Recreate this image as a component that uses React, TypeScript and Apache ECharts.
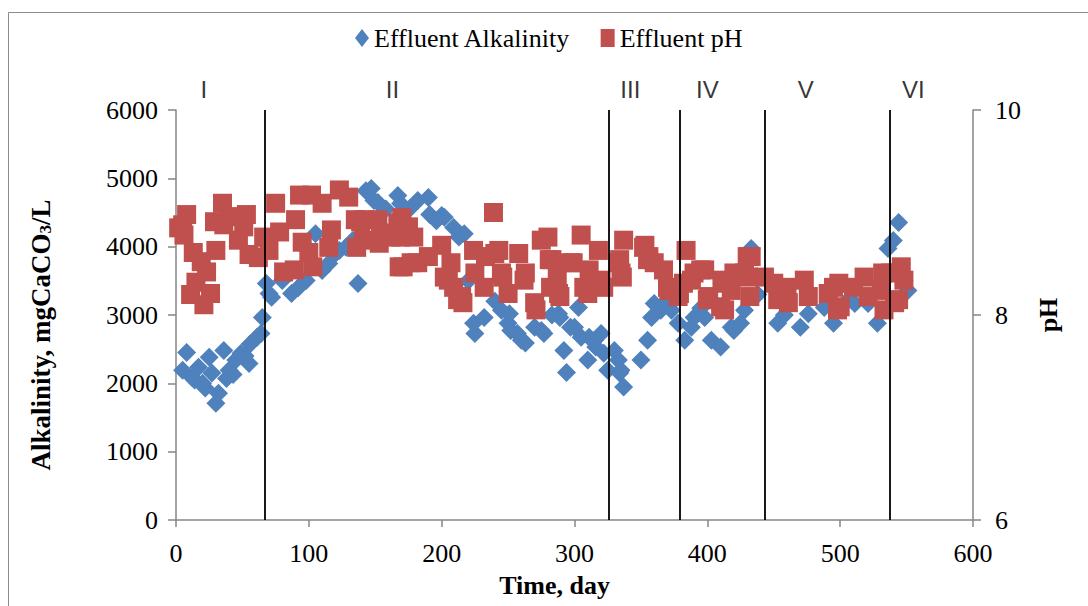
import React, { useEffect, useRef } from "react";
import * as echarts from "echarts";

// Effluent alkalinity (mgCaCO3/L) vs day
const alkDays = [
  5, 8, 12, 14, 17, 20, 22, 25, 27, 30, 32, 36, 38, 40, 43, 45, 49, 52, 55, 56, 61, 64, 65,
  68, 70, 72, 80, 87, 92, 98, 105, 110, 115, 120, 123, 128, 133, 137, 143, 147, 149, 152, 158,
  167, 169, 176, 182, 190, 191, 196, 200, 202, 209, 213, 217, 220, 224, 225, 232, 240, 245,
  250, 251, 252, 257, 260, 263, 270, 275, 277, 283, 288, 289, 292, 294, 297, 300, 303, 305,
  310, 311, 315, 316, 320, 322, 325,
  330, 333, 334, 335, 337, 350, 355, 358, 360, 365, 370, 373, 378,
  383, 388, 390, 395, 398, 403, 410, 418, 420, 425, 428, 433, 438,
  453, 458, 470, 476, 488, 495, 505, 511, 521, 528, 536,
  540, 544, 548, 551,
];
const alkValues = [
  2190, 2450, 2090, 2050, 2235, 2000, 1930, 2380, 2150, 1710, 1855, 2480, 2070, 2190, 2130, 2340, 2440, 2400, 2290, 2580, 2675, 2730, 2965,
  3460, 3315, 3260, 3505, 3315, 3400, 3505, 4190, 3650, 3755, 3900, 3945, 3990, 4090, 3460, 4820, 4850, 4675, 4645, 4550,
  4750, 4630, 4560, 4675, 4720, 4470, 4380, 4455, 4430, 4280, 4140, 4190, 3500, 2880, 2730, 2965, 3200, 3070,
  2880, 3020, 2775, 2730, 2630, 2590, 2820, 2775, 2730, 3000, 3020, 2965, 2480, 2160, 2820, 2820, 3110, 2675,
  2340, 2675, 2630, 2530, 2730, 2440, 2190,
  2480, 2340, 2150, 2190, 1945, 2340, 2630, 2965, 3170, 3070, 3215, 3070, 2880,
  2630, 2820, 2965, 3100, 2965, 2630, 2530, 2820, 2775, 2880, 3070, 3975, 3300,
  2880, 3000, 2820, 3020, 3110, 2880, 3200, 3170, 3170, 2880, 3975,
  4090, 4355, 3500, 3360,
];

// Effluent pH vs day
const phDays = [
  2, 5, 6, 8, 11, 13, 15, 19, 21, 23, 26, 29, 30, 35, 36, 41, 47, 51, 53, 55, 62, 66,
  70, 75, 78, 81, 89, 90, 93, 95, 100, 102, 103, 110, 115, 117, 123, 130, 135, 136, 139, 141, 142,
  152, 153, 154, 162, 167, 168, 169, 170, 171, 175, 177, 179, 182, 190, 200, 202, 205, 207, 209,
  212, 215, 216, 224, 225, 232, 233, 239, 240, 243, 245, 246, 250, 258, 262, 263, 270, 271, 275,
  280, 281, 282, 283, 287, 288, 289, 297, 299, 305, 307, 310, 311, 318, 320, 322,
  333, 334, 335, 336, 337, 352, 353, 355, 356, 360, 367, 370, 371, 378, 379,
  382, 384, 388, 390, 395, 398, 400, 401, 410, 411, 412, 413, 418, 420, 428, 430, 431, 432, 433,
  443, 450, 453, 460, 461, 473, 476, 491, 495, 498, 499, 500, 510, 518, 521, 531, 532, 533,
  538, 541, 544, 546, 548,
];
const phValues = [
  8.85, 8.88, 8.78, 8.98, 8.2, 8.61, 8.32, 8.52, 8.1, 8.42, 8.21, 8.91, 8.63, 9.09, 8.88, 8.96, 8.73, 8.86, 8.98, 8.59, 8.56, 8.76,
  8.63, 9.09, 8.81, 8.42, 8.44, 8.93, 9.17, 8.71, 8.61, 9.17, 8.47, 9.09, 8.66, 8.83, 9.22, 9.15, 8.93, 8.66, 8.91, 8.73, 8.93,
  8.93, 8.7, 8.8, 8.76, 8.9, 8.47, 8.76, 8.95, 8.47, 8.86, 8.51, 8.76, 8.51, 8.57, 8.68, 8.37, 8.34, 8.51, 8.27,
  8.15, 8.18, 8.12, 8.63, 8.41, 8.27, 8.57, 9.0, 8.6, 8.63, 8.41, 8.37, 8.21, 8.6, 8.34, 8.41, 8.12, 8.05, 8.73,
  8.76, 8.54, 8.27, 8.54, 8.37, 8.21, 8.18, 8.51, 8.51, 8.78, 8.27, 8.21, 8.44, 8.63, 8.34, 8.27,
  8.51, 8.54, 8.41, 8.37, 8.73, 8.66, 8.68, 8.54, 8.57, 8.51, 8.44, 8.27, 8.24, 8.18, 8.21,
  8.31, 8.63, 8.34, 8.41, 8.44, 8.44, 8.15, 8.18, 8.08, 8.34, 8.31, 8.05, 8.24, 8.41, 8.41, 8.57, 8.37, 8.18, 8.57,
  8.37, 8.31, 8.15, 8.27, 8.12, 8.34, 8.18, 8.21, 8.27, 8.05, 8.31, 8.08, 8.27, 8.37, 8.18, 8.24, 8.41, 8.05,
  8.41, 8.12, 8.15, 8.47, 8.34,
];

const phaseBoundaries = [67, 326, 379, 443, 537];
const phaseNames = ["I", "II", "III", "IV", "V", "VI"];
const phaseLabelDays = [21, 163, 342, 400, 474, 555];

const SERIF = "'Liberation Serif', 'Times New Roman', serif";
const SANS = "'Liberation Sans', Arial, sans-serif";
const AXIS_GRAY = "#868686";
const FS = 26;

export default function App() {
  const ref = useRef<HTMLDivElement>(null);

  useEffect(() => {
    const chart = echarts.init(ref.current!, null, { renderer: "svg" });
    const alkData = alkDays.map((d, i) => [d, alkValues[i]]);
    const phData = phDays.map((d, i) => [d, phValues[i]]);
    const phaseData = phaseLabelDays.map((d) => [d, 6000]);

    chart.setOption({
      animation: false,
      backgroundColor: "#ffffff",
      graphic: [
        {
          type: "rect",
          shape: { x: 8.5, y: 12.5, width: 1200, height: 700 },
          style: { fill: "none", stroke: "#8c8c8c", lineWidth: 1 },
          silent: true,
        },
      ],
      legend: {
        data: [
          { name: "Effluent Alkalinity", icon: "diamond" },
          { name: "Effluent pH", icon: "rect" },
        ],
        left: 350,
        top: 20,
        itemWidth: 14,
        itemHeight: 18,
        itemGap: 30,
        textStyle: { fontFamily: SERIF, fontSize: FS, color: "#000" },
      },
      grid: { left: 176, right: 115, top: 110, bottom: 86, containLabel: false },
      xAxis: {
        type: "value",
        min: 0,
        max: 600,
        interval: 100,
        name: "Time, day",
        nameLocation: "middle",
        nameGap: 52,
        nameTextStyle: {
          fontFamily: SERIF,
          fontSize: FS,
          fontWeight: "bold",
          color: "#000",
          padding: [0, 40, 0, 0],
        },
        axisLine: { show: true, onZero: false, lineStyle: { color: AXIS_GRAY, width: 1.5 } },
        axisTick: { show: true, length: 7, lineStyle: { color: AXIS_GRAY, width: 1.5 } },
        axisLabel: { margin: 20, fontFamily: SERIF, fontSize: FS, color: "#000" },
        splitLine: { show: false },
      },
      yAxis: [
        {
          type: "value",
          position: "left",
          min: 0,
          max: 6000,
          interval: 1000,
          name: "{a|Alkalinity, mgCaCO}{b|3}{a|/L}",
          nameLocation: "middle",
          nameRotate: 90,
          nameGap: 122,
          nameTextStyle: {
            color: "#000",
            padding: [0, 40, 0, 0],
            rich: {
              a: { fontFamily: SERIF, fontSize: 27, fontWeight: "bold", color: "#000" },
              b: {
                fontFamily: SERIF,
                fontSize: 17,
                fontWeight: "bold",
                color: "#000",
                verticalAlign: "bottom",
                lineHeight: 6,
              },
            },
          },
          axisLine: { show: true, onZero: false, lineStyle: { color: AXIS_GRAY, width: 1.5 } },
          axisTick: { show: true, length: 8, lineStyle: { color: AXIS_GRAY, width: 1.5 } },
          axisLabel: {
            margin: 18,
            fontFamily: SERIF,
            fontSize: FS,
            color: "#000",
            formatter: (v: number) => String(v),
          },
          splitLine: { show: false },
        },
        {
          type: "value",
          position: "right",
          min: 6,
          max: 10,
          interval: 2,
          name: "pH",
          nameLocation: "middle",
          nameRotate: 90,
          nameGap: 62,
          nameTextStyle: { fontFamily: SERIF, fontSize: FS, fontWeight: "bold", color: "#000" },
          axisLine: { show: true, onZero: false, lineStyle: { color: AXIS_GRAY, width: 1.5 } },
          axisTick: { show: true, length: 8, lineStyle: { color: AXIS_GRAY, width: 1.5 } },
          axisLabel: {
            margin: 22,
            fontFamily: SERIF,
            fontSize: FS,
            color: "#000",
            formatter: (v: number) => String(v),
          },
          splitLine: { show: false },
        },
      ],
      series: [
        {
          name: "Effluent Alkalinity",
          type: "scatter",
          yAxisIndex: 0,
          symbol: "diamond",
          symbolSize: 19,
          itemStyle: { color: "#4F81BD", opacity: 1 },
          data: alkData,
          z: 2,
        },
        {
          name: "Effluent pH",
          type: "scatter",
          yAxisIndex: 1,
          symbol: "rect",
          symbolSize: 19,
          itemStyle: { color: "#C0504D", opacity: 1 },
          data: phData,
          z: 3,
          markLine: {
            silent: true,
            symbol: "none",
            label: { show: false },
            lineStyle: { color: "#000", width: 1.8, type: "solid" },
            data: phaseBoundaries.map((d) => ({ xAxis: d })),
          },
        },
        {
          name: "Phases",
          type: "scatter",
          yAxisIndex: 0,
          symbolSize: 2,
          itemStyle: { color: "rgba(0,0,0,0)" },
          silent: true,
          clip: false,
          data: phaseData,
          label: {
            show: true,
            position: "top",
            distance: 8,
            formatter: (p: any) => phaseNames[p.dataIndex],
            fontFamily: SANS,
            fontSize: 24,
            color: "#000",
          },
        },
      ],
    });

    return () => chart.dispose();
  }, []);

  return (
    <div
      ref={ref}
      style={{ position: "fixed", left: 0, top: 0, width: 1088, height: 606, background: "#fff" }}
    />
  );
}
